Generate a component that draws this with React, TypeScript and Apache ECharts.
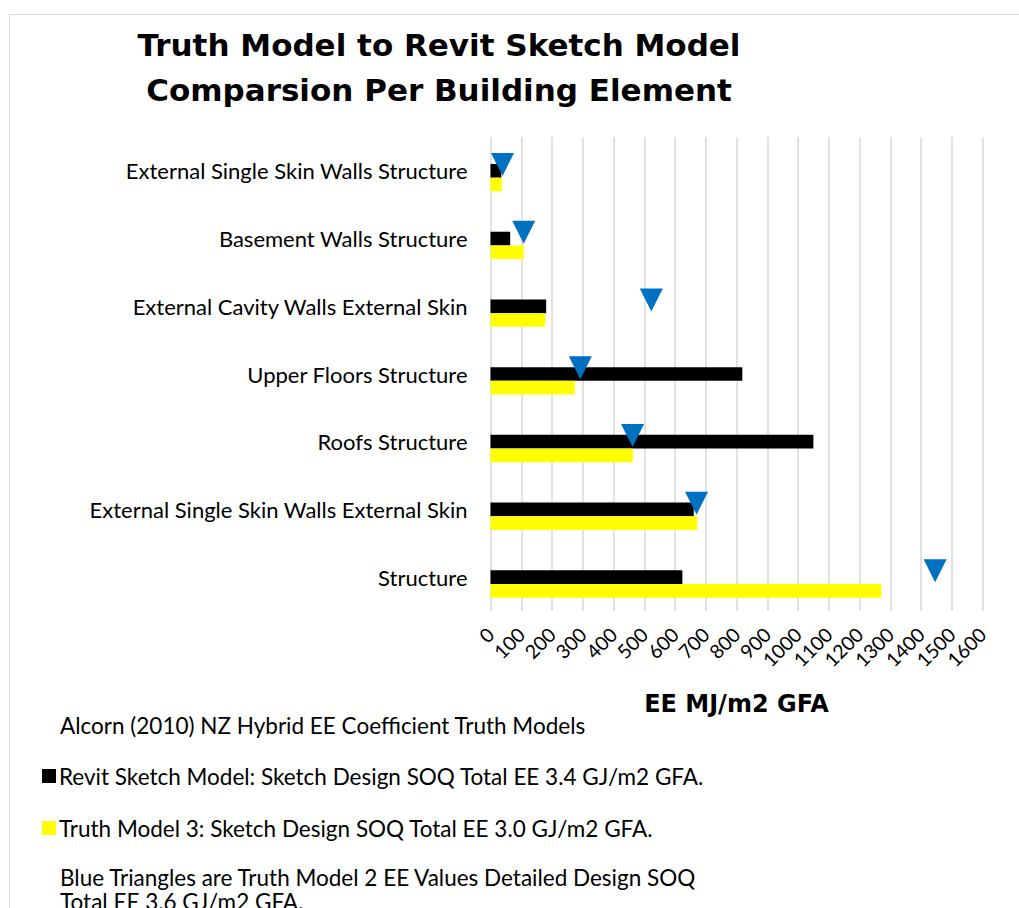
import React, { useEffect, useRef } from 'react';
import * as echarts from 'echarts';

const categories = [
  'External Single Skin Walls Structure',
  'Basement Walls Structure',
  'External Cavity Walls External Skin',
  'Upper Floors Structure',
  'Roofs Structure',
  'External Single Skin Walls External Skin',
  'Structure',
];
const revitSketch = [35, 64, 181, 819, 1050, 661, 624];
const truthModel3 = [37, 108, 178, 274, 463, 672, 1271];
const truthModel2 = [39, 108, 523, 292, 462, 670, 1446];

const revitName = 'Revit Sketch Model: Sketch Design SOQ Total EE 3.4 GJ/m2 GFA.';
const truth3Name = 'Truth Model 3: Sketch Design SOQ Total EE 3.0 GJ/m2 GFA.';
const truth2Name = 'Truth Model 2';
const titleLines = ['Truth Model to Revit Sketch Model', 'Comparsion Per Building Element'];
const sourceNote = 'Alcorn (2010) NZ Hybrid EE Coefficient Truth Models';
const triangleNote = ['Blue Triangles are Truth Model 2 EE Values Detailed Design SOQ', 'Total EE 3.6 GJ/m2 GFA.'];
const axisTitle = 'EE MJ/m2 GFA';

const FONT = '"Gill Sans", "Gill Sans MT", Lato, "Noto Sans", sans-serif';
const BOLD_FONT = '"Gill Sans", "Gill Sans MT", "DejaVu Sans", sans-serif';

export default function App() {
  const ref = useRef<HTMLDivElement>(null);
  useEffect(() => {
    if (!ref.current) return;
    const chart = echarts.init(ref.current, undefined, { renderer: 'svg' });
    const barW = 13.7;
    chart.setOption({
      animation: false,
      backgroundColor: '#ffffff',
      textStyle: { fontFamily: FONT },
      grid: { left: 490.5, right: 36.5, top: 137, bottom: 297, containLabel: false },
      legend: {
        data: [revitName, truth3Name],
        orient: 'vertical',
        left: 42,
        top: 763,
        padding: 0,
        icon: 'rect',
        itemWidth: 14,
        itemHeight: 14,
        itemGap: 26,
        selectedMode: false,
        textStyle: { fontFamily: FONT, fontSize: 22.5, color: '#000', lineHeight: 26, padding: [0, 0, 0, -2] },
      },
      xAxis: {
        type: 'value',
        min: 0,
        max: 1600,
        interval: 100,
        axisLine: { show: false },
        axisTick: { show: false },
        splitLine: { show: true, lineStyle: { color: '#d9d9d9', width: 1.5 } },
        axisLabel: {
          rotate: 45,
          fontSize: 19.5,
          color: '#000',
          margin: 20,
          fontFamily: FONT,
          formatter: (v: number) => String(v),
        },
        name: axisTitle,
        nameLocation: 'middle',
        nameGap: 81,
        nameTextStyle: { fontFamily: BOLD_FONT, fontSize: 24, fontWeight: 'bold', color: '#000' },
      },
      yAxis: {
        type: 'category',
        inverse: true,
        data: categories,
        axisLine: { show: false },
        axisTick: { show: false },
        splitLine: { show: false },
        axisLabel: { fontSize: 22, color: '#000', margin: 23, fontFamily: FONT },
      },
      series: [
        {
          name: 'spacer',
          type: 'bar',
          data: categories.map(() => null),
          barWidth: barW,
          barGap: '0%',
          silent: true,
        },
        {
          name: revitName,
          type: 'bar',
          data: revitSketch,
          barWidth: barW,
          barGap: '0%',
          itemStyle: { color: '#000000' },
        },
        {
          name: truth3Name,
          type: 'bar',
          data: truthModel3,
          barWidth: barW,
          barGap: '0%',
          itemStyle: { color: '#ffff00' },
        },
        {
          name: truth2Name,
          type: 'scatter',
          data: truthModel2.map((v, i) => [v, categories[i]]),
          symbol: 'triangle',
          symbolRotate: 180,
          symbolSize: [23, 23],
          symbolOffset: [0, -6.3],
          itemStyle: { color: '#0070c0', opacity: 1 },
          z: 5,
        },
      ],
      graphic: [
        {
          type: 'rect',
          z: -10,
          silent: true,
          shape: { x: 9.5, y: 14.5, width: 1200, height: 1200 },
          style: { fill: 'none', stroke: '#d9d9d9', lineWidth: 1 },
        },
        {
          type: 'text',
          x: 439,
          y: 45,
          style: {
            text: titleLines[0],
            font: `bold 31px ${BOLD_FONT}`,
            fill: '#000',
            textAlign: 'center',
            textVerticalAlign: 'middle',
          },
        },
        {
          type: 'text',
          x: 439,
          y: 90,
          style: {
            text: titleLines[1],
            font: `bold 31px ${BOLD_FONT}`,
            fill: '#000',
            textAlign: 'center',
            textVerticalAlign: 'middle',
          },
        },
        {
          type: 'text',
          x: 60,
          y: 725,
          style: {
            text: sourceNote,
            font: `22.5px ${FONT}`,
            fill: '#000',
            textAlign: 'left',
            textVerticalAlign: 'middle',
          },
        },
        {
          type: 'text',
          x: 60,
          y: 865,
          style: {
            text: triangleNote.join('\n'),
            font: `22.5px ${FONT}`,
            lineHeight: 24,
            fill: '#000',
            textAlign: 'left',
            textVerticalAlign: 'top',
          },
        },
      ],
    });
    return () => chart.dispose();
  }, []);
  return (
    <div
      ref={ref}
      style={{ position: 'fixed', left: 0, top: 0, width: 1019, height: 908, background: '#fff' }}
    />
  );
}
